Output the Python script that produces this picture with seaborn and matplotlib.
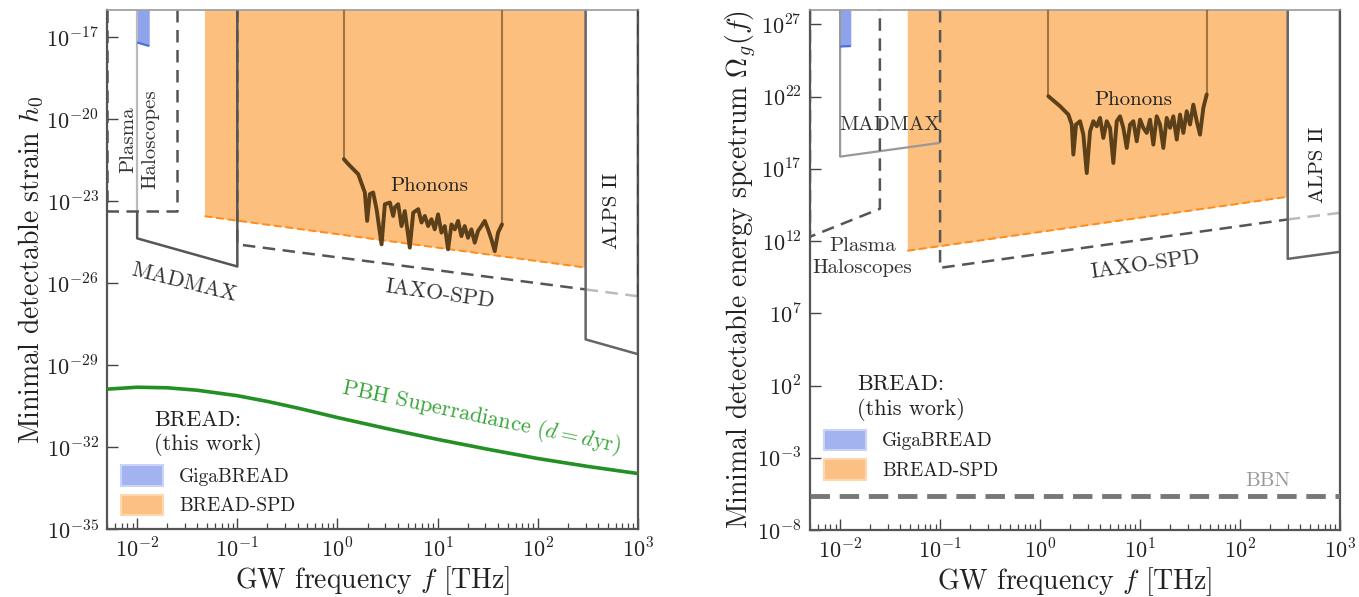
import numpy as np
import pandas as pd
import matplotlib
matplotlib.use("Agg")
import matplotlib.pyplot as plt
import seaborn as sns
from matplotlib.patches import Patch
from matplotlib.ticker import FixedLocator, FuncFormatter, LogLocator, NullFormatter

# ---------------- data ----------------
F_MIN, F_MAX = 0.005, 1000.0
H_MIN, H_MAX = 1e-35, 1e-16
O_MIN, O_MAX = 1e-8, 1e28

# PBH superradiance curve (left panel), log10 f / log10 h
pbh_logf = [-2.3, -2.0, -1.7, -1.4, -1.0, -0.7, -0.4, 0.0, 0.5, 1.0, 1.5, 2.0, 2.5, 3.0]
pbh_logh = [-29.88, -29.81, -29.83, -29.92, -30.12, -30.33, -30.57, -30.92, -31.33, -31.72,
            -32.08, -32.42, -32.71, -32.97]

# Phonons curve (left panel)
phon_l_logf = [0.064, 0.107, 0.207, 0.273, 0.296, 0.323, 0.356, 0.390, 0.440, 0.473, 0.523,
               0.556, 0.572, 0.606, 0.639, 0.672, 0.722, 0.756, 0.806, 0.839, 0.872, 0.905,
               0.938, 0.971, 1.004, 1.038, 1.071, 1.104, 1.138, 1.171, 1.204, 1.237, 1.270,
               1.303, 1.337, 1.370, 1.403, 1.437, 1.470, 1.503, 1.537, 1.570, 1.603, 1.642]
phon_l_logh = [-21.46, -21.64, -22.01, -22.68, -23.72, -22.74, -22.68, -23.29, -24.58, -23.11,
               -23.05, -23.54, -23.23, -23.11, -23.91, -23.36, -24.70, -23.42, -23.29, -23.78,
               -23.54, -23.91, -23.66, -24.03, -23.48, -24.15, -23.91, -24.76, -23.85, -24.03,
               -23.72, -24.28, -23.91, -24.34, -24.03, -24.52, -24.09, -23.91, -23.72, -24.03,
               -24.40, -24.83, -24.15, -23.85]

# Phonons curve (right panel)
phon_r_logf = [0.083, 0.200, 0.283, 0.317, 0.333, 0.360, 0.400, 0.433, 0.467, 0.500, 0.533,
               0.567, 0.600, 0.633, 0.667, 0.700, 0.733, 0.767, 0.800, 0.833, 0.867, 0.900,
               0.933, 0.967, 1.000, 1.033, 1.067, 1.100, 1.133, 1.167, 1.200, 1.233, 1.267,
               1.300, 1.333, 1.367, 1.400, 1.433, 1.467, 1.500, 1.533, 1.567, 1.600, 1.633, 1.667]
phon_r_logo = [22.03, 21.34, 20.76, 20.07, 17.99, 20.07, 20.30, 19.37, 16.71, 19.60, 20.30,
               19.95, 20.53, 19.14, 20.30, 19.84, 17.41, 20.30, 20.64, 19.84, 18.45, 20.07,
               20.30, 18.91, 20.41, 19.84, 19.49, 20.41, 18.68, 20.64, 20.07, 18.45, 20.53,
               19.84, 20.64, 19.03, 20.76, 19.49, 20.99, 20.07, 21.45, 20.30, 19.37, 21.22, 22.15]

# Left panel region outlines (f, h)
l_madmax_f = [0.01, 0.01, 0.1, 0.1]
l_madmax_h = [4e-24, 10**-24.36, 10**-25.39, H_MAX]
l_plasma_f = [F_MIN, F_MIN, 0.025, 0.025]
l_plasma_h = [H_MAX, 10**-23.37, 10**-23.37, H_MAX]
l_iaxo_f = [0.1, 0.1, 300.0]
l_iaxo_h = [H_MAX, 10**-24.58, 10**-26.23]
l_iaxo_tail_f = [300.0, 1000.0]
l_iaxo_tail_h = [10**-26.23, 10**-26.48]
l_alps_f = [300.0, 300.0, 1000.0, 1000.0]
l_alps_h = [H_MAX, 10**-28.06, 10**-28.6, H_MAX]
l_spd_f = [0.047, 300.0]
l_spd_h = [10**-23.55, 10**-25.43]
l_giga_f = [0.01, 0.0132]
l_giga_h = [10**-17.19, 10**-17.32]

# Right panel region outlines (f, Omega)
r_madmax_f = [0.01, 0.01, 0.1]
r_madmax_o = [O_MAX, 10**17.85, 10**18.8]
r_plasma_f = [F_MIN, F_MIN, 0.025, 0.025]
r_plasma_o = [O_MAX, 10**12.3, 10**14.24, O_MAX]
r_iaxo_f = [0.1, 0.1, 300.0]
r_iaxo_o = [O_MAX, 10**10.15, 10**13.5]
r_iaxo_tail_f = [300.0, 1000.0]
r_iaxo_tail_o = [10**13.5, 10**13.96]
r_alps_f = [300.0, 300.0, 1000.0, 1000.0]
r_alps_o = [O_MAX, 10**10.77, 10**11.26, O_MAX]
r_spd_f = [0.047, 300.0]
r_spd_o = [10**11.33, 10**15.07]
r_giga_f = [0.01, 0.0128]
r_giga_o = [10**25.47, 10**25.5]
bbn_f = [F_MIN, F_MAX]
bbn_o = [10**-5.64, 10**-5.64]

x_ticks = [1e-2, 1e-1, 1e0, 1e1, 1e2, 1e3]
yl_ticks = [1e-35, 1e-32, 1e-29, 1e-26, 1e-23, 1e-20, 1e-17]
yr_ticks = [1e-8, 1e-3, 1e2, 1e7, 1e12, 1e17, 1e22, 1e27]

legend_labels = ["GigaBREAD", "BREAD-SPD"]

# ---------------- style ----------------
sns.set_theme(style="ticks")
plt.rcParams.update({
    "font.family": ["cmr10", "DejaVu Serif"],
    "mathtext.fontset": "cm",
    "axes.formatter.use_mathtext": True,
    "axes.unicode_minus": False,
    "xtick.direction": "in",
    "ytick.direction": "in",
    "xtick.major.size": 8, "ytick.major.size": 8,
    "xtick.minor.size": 4, "ytick.minor.size": 4,
    "xtick.major.width": 1.0, "ytick.major.width": 1.0,
    "xtick.minor.width": 0.9,
    "xtick.color": "#444444", "ytick.color": "#444444",
    "xtick.labelcolor": "#222222", "ytick.labelcolor": "#222222",
})

ORANGE_FILL = "#fdbf7e"
ORANGE_LINE = "#ff8c1a"
BLUE_FILL = "#8ea3ec"
BLUE_LINE = "#4a6ae0"
DARK = "#555555"
LIGHT = "#bbbbbb"
BROWN = "#5c4019"
BROWN_V = "#8a6330"
GREEN = "#229022"

fig = plt.figure(figsize=(13.59, 5.97), dpi=100)
axL = fig.add_axes([107 / 1359, 1 - 529 / 597, (638 - 107) / 1359, (529 - 10) / 597])
axR = fig.add_axes([810 / 1359, 1 - 530 / 597, (1340 - 810) / 1359, (530 - 10) / 597])

def pow10(a):
    return [10.0 ** v for v in a]

def style_axes(ax, ylo, yhi, yticks):
    ax.set_xscale("log")
    ax.set_yscale("log")
    ax.set_xlim(F_MIN, F_MAX)
    ax.set_ylim(ylo, yhi)
    ax.xaxis.set_major_locator(FixedLocator(x_ticks))
    ax.xaxis.set_minor_locator(LogLocator(base=10, subs=np.arange(2, 10)))
    ax.xaxis.set_minor_formatter(NullFormatter())
    ax.xaxis.set_major_formatter(FuncFormatter(lambda v, p: r"$10^{%d}$" % round(np.log10(v))))
    ax.yaxis.set_major_locator(FixedLocator(yticks))
    ax.yaxis.set_minor_locator(FixedLocator([]))
    ax.yaxis.set_major_formatter(FuncFormatter(lambda v, p: r"$10^{%d}$" % round(np.log10(v))))
    ax.tick_params(axis="both", which="major", labelsize=16, pad=6)
    ax.tick_params(axis="x", which="both", top=False)
    ax.tick_params(axis="y", which="both", right=False)
    ax.set_xlabel(r"GW frequency $f$ $[\mathrm{THz}]$", fontsize=20, color="#222222", labelpad=2)
    for s in ["left", "bottom", "right"]:
        ax.spines[s].set_color("#555555")
        ax.spines[s].set_linewidth(1.6)
    ax.spines["top"].set_color("#999999")
    ax.spines["top"].set_linewidth(1.2)

def line(ax, f, v, **kw):
    ax.plot(f, v, solid_capstyle="butt", dash_capstyle="butt", **kw)

def add_legend(ax, anchor):
    handles = [Patch(facecolor="#a3b3ef", edgecolor="#c9d3f7", lw=1.5),
               Patch(facecolor="#fdc084", edgecolor="#fed7ae", lw=1.5)]
    leg = ax.legend(handles, legend_labels, title="BREAD:\n(this work)", loc="lower left",
                    bbox_to_anchor=anchor, frameon=False, fontsize=14, title_fontsize=16,
                    handlelength=2.2, handleheight=1.25, labelspacing=0.45, borderaxespad=0.3)
    leg.get_title().set_multialignment("left")
    leg.get_title().set_color("#222222")
    for t in leg.get_texts():
        t.set_color("#222222")

# ---------------- left panel ----------------
ax = axL
style_axes(ax, H_MIN, H_MAX, yl_ticks)
ax.set_ylabel(r"Minimal detectable strain $h_0$", fontsize=20, color="#222222", labelpad=0)

ax.fill_between(l_spd_f, l_spd_h, [H_MAX, H_MAX], color=ORANGE_FILL, lw=0, zorder=1)
line(ax, l_spd_f, l_spd_h, color=ORANGE_LINE, lw=1.4, ls=(0, (4, 2)), zorder=3)
ax.fill_between(l_giga_f, l_giga_h, [H_MAX, H_MAX], color=BLUE_FILL, lw=0, zorder=1)
line(ax, l_giga_f, l_giga_h, color=BLUE_LINE, lw=1.5, zorder=3)

# MADMAX (upper part of left edge lighter)
line(ax, [0.01, 0.01], [H_MAX, 4e-24], color=LIGHT, lw=1.6, zorder=2)
line(ax, l_madmax_f, l_madmax_h, color="#555555", lw=1.8, zorder=2)
# Plasma haloscopes
line(ax, l_plasma_f, l_plasma_h, color=DARK, lw=1.8, ls=(0, (5, 3)), zorder=2)
# IAXO-SPD
line(ax, l_iaxo_f, l_iaxo_h, color=DARK, lw=1.8, ls=(0, (5, 3)), zorder=2)
line(ax, l_iaxo_tail_f, l_iaxo_tail_h, color=LIGHT, lw=1.8, ls=(0, (5, 3)), zorder=2)
line(ax, [1000.0, 1000.0], [l_iaxo_tail_h[-1], H_MAX], color="#333333", lw=1.8, ls=(0, (5, 3)), zorder=4)
# ALPS II
line(ax, l_alps_f, l_alps_h, color="#666666", lw=1.8, zorder=2)

# Phonons
pf = pow10(phon_l_logf)
ph = pow10(phon_l_logh)
line(ax, [pf[0], pf[0]], [H_MAX, ph[0]], color=BROWN_V, lw=1.5, alpha=0.8, zorder=3)
line(ax, [pf[-1], pf[-1]], [ph[-1], H_MAX], color=BROWN_V, lw=1.5, alpha=0.8, zorder=3)
sns.lineplot(x=pf, y=ph, ax=ax, sort=False, estimator=None, color=BROWN, lw=2.8, zorder=4)

# PBH superradiance
sns.lineplot(x=pow10(pbh_logf), y=pow10(pbh_logh), ax=ax, sort=False, estimator=None,
             color=GREEN, lw=2.6, zorder=4)

# texts
ax.text(0.0081, 10**-20.74, "Plasma", rotation=90, fontsize=15, ha="center", va="center", color="#333333")
ax.text(0.0135, 10**-20.74, "Haloscopes", rotation=90, fontsize=15, ha="center", va="center", color="#333333")
ax.text(0.029, 10**-25.96, "MADMAX", rotation=-14, fontsize=16, ha="center", va="center",
        color="#333333", rotation_mode="anchor")
ax.text(10.5, 10**-26.4, "IAXO-SPD", rotation=-8, fontsize=16, ha="center", va="center",
        color="#333333", rotation_mode="anchor")
ax.text(8.3, 10**-22.45, "Phonons", fontsize=15, ha="center", va="center", color="#222222")
ax.text(545, 10**-23.37, "ALPS II", rotation=90, fontsize=15, ha="center", va="center", color="#222222")
ax.text(27, 10**-30.9, r"PBH Superradiance $(d = d\mathrm{yr})$", rotation=-12, fontsize=16,
        ha="center", va="center", color="#3aa63a", rotation_mode="anchor")
add_legend(ax, (0.0, 0.0))

# ---------------- right panel ----------------
ax = axR
style_axes(ax, O_MIN, O_MAX, yr_ticks)
ax.set_ylabel(r"Minimal detectable energy spcetrum $\Omega_g(f)$", fontsize=20, color="#222222", labelpad=-1)

ax.fill_between(r_spd_f, r_spd_o, [O_MAX, O_MAX], color=ORANGE_FILL, lw=0, zorder=1)
line(ax, r_spd_f, r_spd_o, color=ORANGE_LINE, lw=1.4, ls=(0, (4, 2)), zorder=3)
ax.fill_between(r_giga_f, r_giga_o, [O_MAX, O_MAX], color=BLUE_FILL, lw=0, zorder=1)
line(ax, r_giga_f, r_giga_o, color=BLUE_LINE, lw=1.5, zorder=3)

line(ax, r_madmax_f, r_madmax_o, color="#999999", lw=1.6, zorder=2)
line(ax, r_plasma_f, r_plasma_o, color=DARK, lw=1.8, ls=(0, (5, 3)), zorder=2)
line(ax, r_iaxo_f, r_iaxo_o, color=DARK, lw=1.8, ls=(0, (5, 3)), zorder=2)
line(ax, r_iaxo_tail_f, r_iaxo_tail_o, color=LIGHT, lw=1.8, ls=(0, (5, 3)), zorder=2)
line(ax, r_alps_f, r_alps_o, color="#666666", lw=1.8, zorder=2)

pf = pow10(phon_r_logf)
po = pow10(phon_r_logo)
line(ax, [pf[0], pf[0]], [O_MAX, po[0]], color=BROWN_V, lw=1.5, alpha=0.8, zorder=3)
line(ax, [pf[-1], pf[-1]], [po[-1], O_MAX], color=BROWN_V, lw=1.5, alpha=0.8, zorder=3)
sns.lineplot(x=pf, y=po, ax=ax, sort=False, estimator=None, color=BROWN, lw=2.8, zorder=4)

sns.lineplot(x=bbn_f, y=bbn_o, ax=ax, sort=False, estimator=None, color="#777777", lw=3.5,
             zorder=4, dashes=False, linestyle=(0, (4, 2)))

ax.text(0.0316, 10**20.07, "MADMAX", fontsize=15, ha="center", va="center", color="#333333")
ax.text(0.0166, 10**10.9, "Plasma\nHaloscopes", fontsize=15, ha="center", va="center",
        color="#333333", multialignment="center", linespacing=1.35)
ax.text(11.2, 10**10.36, "IAXO-SPD", rotation=8, fontsize=16, ha="center", va="center",
        color="#333333", rotation_mode="anchor")
ax.text(8.5, 10**21.8, "Phonons", fontsize=15, ha="center", va="center", color="#222222")
ax.text(603, 10**17.3, "ALPS II", rotation=90, fontsize=15, ha="center", va="center", color="#222222")
ax.text(190, 10**-4.6, "BBN", fontsize=15, ha="center", va="center", color="#999999")
add_legend(ax, (0.0, 0.07))

fig.savefig("out.png", dpi=100)
